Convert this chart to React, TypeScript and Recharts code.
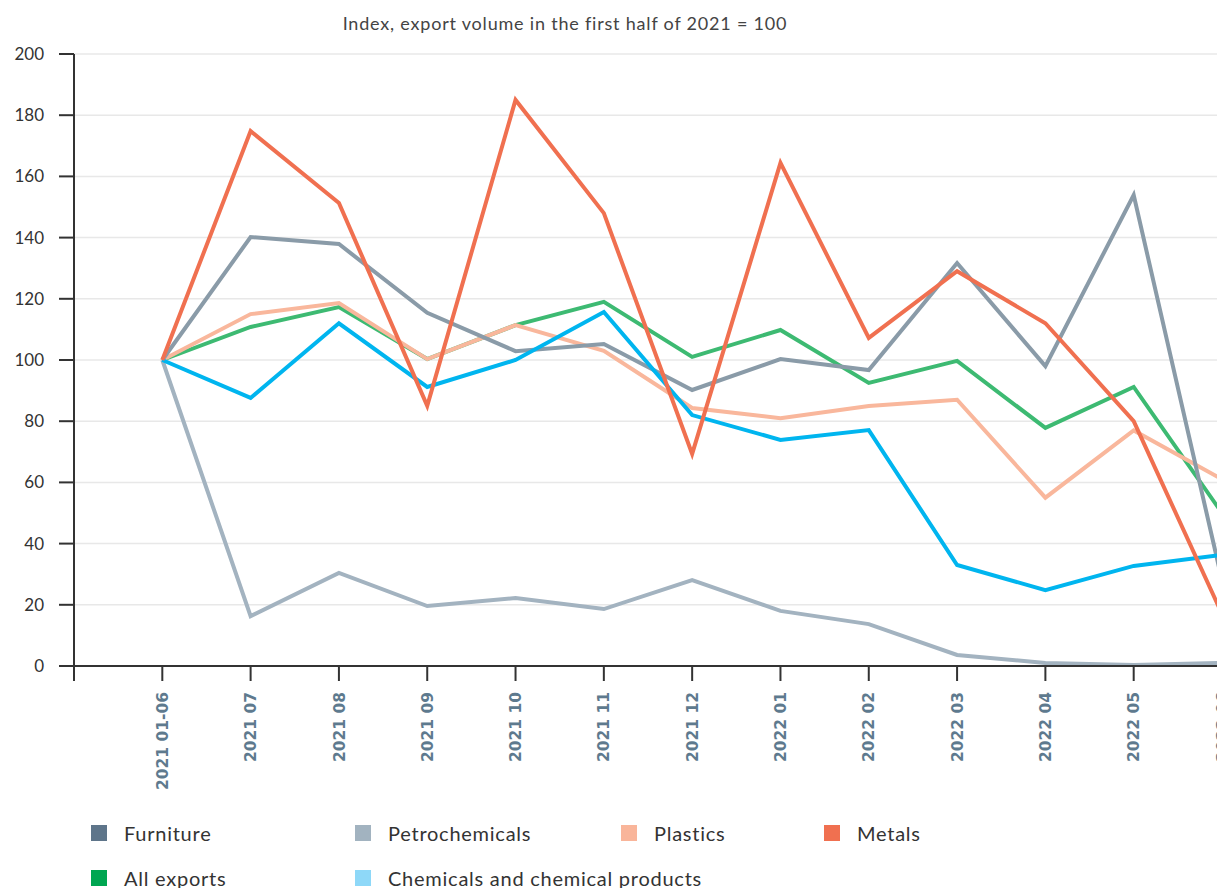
import React from 'react'
import { CartesianGrid, Line, LineChart, XAxis, YAxis } from 'recharts'

const categories = ['2021 01-06', '2021 07', '2021 08', '2021 09', '2021 10', '2021 11', '2021 12', '2022 01', '2022 02', '2022 03', '2022 04', '2022 05', '2022 06']
const furniture = [100, 140.2, 137.9, 115.4, 102.9, 105.2, 90.2, 100.3, 96.7, 131.7, 98, 153.9, 28]
const petrochemicals = [100, 16.3, 30.4, 19.6, 22.2, 18.6, 28.1, 18, 13.7, 3.6, 1, 0.3, 1]
const plastics = [100, 115, 118.6, 100.3, 111.4, 103, 84.3, 81, 85, 87, 55, 77, 61]
const metals = [100, 174.8, 151.3, 85, 185, 148, 69.3, 164.4, 107.2, 129, 112, 80, 17]
const allExports = [100, 110.8, 117.3, 100.3, 111.4, 119, 101, 109.8, 92.5, 99.7, 77.8, 91.2, 50]
const chemicals = [100, 87.6, 112, 91.2, 100, 115.7, 82, 73.9, 77.1, 33, 24.8, 32.7, 36.3]
const yTicks = [0, 20, 40, 60, 80, 100, 120, 140, 160, 180, 200]

const data = categories.map((name, i) => ({
  i,
  name,
  furniture: furniture[i],
  petrochemicals: petrochemicals[i],
  plastics: plastics[i],
  metals: metals[i],
  allExports: allExports[i],
  chemicals: chemicals[i],
}))

const legendItems = [
  { label: 'Furniture', color: '#5e758a', left: 91, top: 821 },
  { label: 'Petrochemicals', color: '#a2b3c0', left: 355, top: 821 },
  { label: 'Plastics', color: '#f9b59a', left: 621, top: 821 },
  { label: 'Metals', color: '#f07050', left: 824, top: 821 },
  { label: 'All exports', color: '#00a651', left: 91, top: 866 },
  { label: 'Chemicals and chemical products', color: '#8ed8f8', left: 355, top: 866 },
]

const XTick = (props: any) => {
  const { x, y, payload } = props
  const label = payload.value >= 0 ? categories[payload.value] : ''
  return (
    <g transform={`translate(${x},${y + 9})`}>
      <text transform='rotate(-90)' textAnchor='end' dy='0.36em' fill='#5e7a8e'
        style={{ fontFamily: 'DejaVu Sans', fontWeight: 700, fontSize: 15.5 }}>{label}</text>
    </g>
  )
}

export default function App() {
  return (
    <div style={{ position: 'absolute', left: 0, top: 0, width: 1217, height: 888, overflow: 'hidden', background: '#fff' }}>
      <div style={{ position: 'absolute', left: 0, width: 1130, top: 12, textAlign: 'center', fontFamily: 'Lato', fontSize: 18, letterSpacing: 0.8, color: '#444' }}>
        Index, export volume in the first half of 2021 = 100
      </div>
      <div style={{ position: 'absolute', left: 0, top: 0 }}>
        <LineChart width={1232} height={816} data={data} margin={{ top: 54, right: 10, left: 0, bottom: 0 }}>
          <CartesianGrid vertical={false} stroke='#e8e8e8' strokeWidth={1.5} />
          <XAxis type='number' dataKey='i' domain={[-1, 12]} ticks={[-1, 0, 1, 2, 3, 4, 5, 6, 7, 8, 9, 10, 11, 12]}
            interval={0} height={150} tickSize={15} allowDataOverflow
            axisLine={{ stroke: '#333', strokeWidth: 2 }} tickLine={{ stroke: '#333', strokeWidth: 2 }} tick={<XTick />} />
          <YAxis domain={[0, 200]} ticks={yTicks} width={74} tickSize={15} tickMargin={15} interval={0}
            axisLine={{ stroke: '#333', strokeWidth: 2 }} tickLine={{ stroke: '#333', strokeWidth: 2 }}
            tick={{ fill: '#333', fontFamily: 'Lato', fontSize: 17 }} />
          <Line type='linear' dataKey='petrochemicals' stroke='#a3b3c0' strokeWidth={4} dot={false} isAnimationActive={false} />
          <Line type='linear' dataKey='allExports' stroke='#3dba72' strokeWidth={4} dot={false} isAnimationActive={false} />
          <Line type='linear' dataKey='plastics' stroke='#f9b79c' strokeWidth={4} dot={false} isAnimationActive={false} />
          <Line type='linear' dataKey='furniture' stroke='#8a9ba8' strokeWidth={4} dot={false} isAnimationActive={false} />
          <Line type='linear' dataKey='chemicals' stroke='#00b5ef' strokeWidth={4} dot={false} isAnimationActive={false} />
          <Line type='linear' dataKey='metals' stroke='#f07050' strokeWidth={4} dot={false} isAnimationActive={false} />
        </LineChart>
      </div>
      {legendItems.map((it) => (
        <div key={it.label} style={{ position: 'absolute', left: it.left, top: it.top, display: 'flex', alignItems: 'center', fontFamily: 'Lato', fontSize: 20, letterSpacing: 0.75, color: '#333' }}>
          <span style={{ display: 'inline-block', width: 16, height: 16, background: it.color, marginRight: 17 }} />
          <span>{it.label}</span>
        </div>
      ))}
    </div>
  )
}
